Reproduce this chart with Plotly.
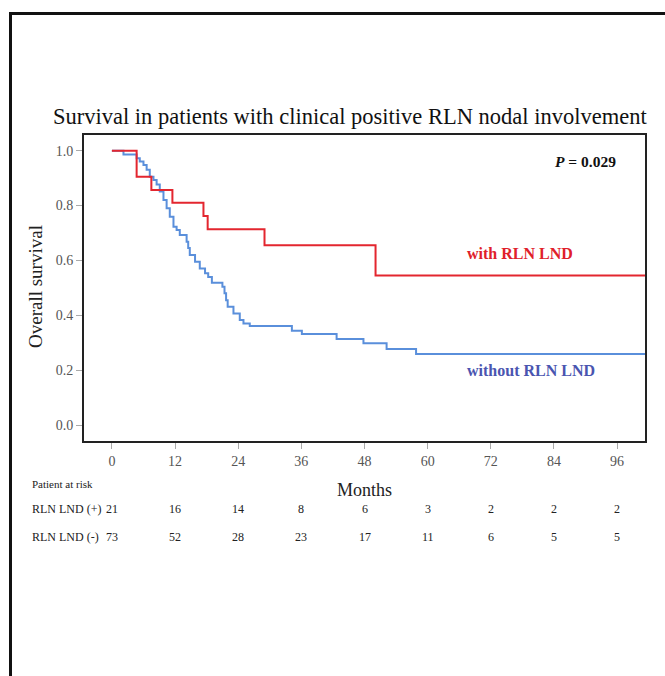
import plotly.graph_objects as go

# ---- data ----
red_t = [0, 4.7, 7.5, 11.5, 17.4, 18.2, 29.0, 50.1, 101.3]
red_s = [1.0, 0.905, 0.857, 0.810, 0.762, 0.714, 0.655, 0.545, 0.545]

blue_t = [0, 2.2, 4.7, 5.3, 6.0, 6.6, 7.2, 7.9, 8.5, 9.1, 9.8, 10.4, 11.0, 11.7,
          12.3, 12.9, 14.2, 14.5, 14.8, 15.8, 16.7, 17.7, 18.3, 19.0, 21.0, 21.4,
          21.7, 22.0, 23.1, 24.3, 25.0, 26.2, 34.2, 36.1, 42.7, 47.8, 52.2, 57.8, 101.3]
blue_s = [1.0, 0.986, 0.972, 0.960, 0.948, 0.930, 0.905, 0.893, 0.877, 0.851, 0.820,
          0.790, 0.759, 0.723, 0.711, 0.693, 0.668, 0.645, 0.620, 0.595, 0.571, 0.553,
          0.540, 0.519, 0.504, 0.480, 0.455, 0.431, 0.407, 0.383, 0.370, 0.361, 0.344,
          0.332, 0.314, 0.298, 0.277, 0.259, 0.259]

risk_times = [0, 12, 24, 36, 48, 60, 72, 84, 96]
risk_plus = [21, 16, 14, 8, 6, 3, 2, 2, 2]
risk_minus = [73, 52, 28, 23, 17, 11, 6, 5, 5]

x_ticks = [0, 12, 24, 36, 48, 60, 72, 84, 96]
y_ticks = [0.0, 0.2, 0.4, 0.6, 0.8, 1.0]

title = "Survival in patients with clinical positive RLN nodal involvement"

# ---- layout helpers (pixel -> paper) ----
W, H = 665, 676
L, R, T, B = 84, 20, 135, 235
PW, PH = W - L - R, H - T - B
def px(x):
    return (x - L) / PW
def py(y):
    return (H - B - y) / PH

SERIF = "Liberation Serif"
RED_LINE = "#e3262f"
BLUE_LINE = "#5a8fdb"

fig = go.Figure()
fig.add_trace(go.Scatter(x=blue_t, y=blue_s, mode="lines", line_shape="hv",
                         line=dict(color=BLUE_LINE, width=2), showlegend=False))
fig.add_trace(go.Scatter(x=red_t, y=red_s, mode="lines", line_shape="hv",
                         line=dict(color=RED_LINE, width=2), showlegend=False))

ann = []
ann.append(dict(text=title, x=px(350), y=py(116), xref="paper", yref="paper",
                showarrow=False, xanchor="center", yanchor="middle",
                font=dict(family=SERIF, size=22.5, color="#111")))
ann.append(dict(text="Overall survival", x=px(35), y=py(287), xref="paper", yref="paper",
                showarrow=False, textangle=-90, xanchor="center", yanchor="middle",
                font=dict(family=SERIF, size=19, color="#222")))
ann.append(dict(text="Months", x=px(364), y=py(490), xref="paper", yref="paper",
                showarrow=False, xanchor="center", yanchor="middle",
                font=dict(family=SERIF, size=18, color="#222")))
ann.append(dict(text="<b><i>P</i> = 0.029</b>", x=px(618), y=py(161), xref="paper", yref="paper",
                showarrow=False, xanchor="right", yanchor="middle",
                font=dict(family=SERIF, size=15.5, color="#111")))
ann.append(dict(text="<b>with RLN LND</b>", x=px(465), y=py(253), xref="paper", yref="paper",
                showarrow=False, xanchor="left", yanchor="middle",
                font=dict(family=SERIF, size=16, color="#e0202a")))
ann.append(dict(text="<b>without RLN LND</b>", x=px(465), y=py(370), xref="paper", yref="paper",
                showarrow=False, xanchor="left", yanchor="middle",
                font=dict(family=SERIF, size=16, color="#4a55b0")))
ann.append(dict(text="Patient at risk", x=px(30), y=py(484), xref="paper", yref="paper",
                showarrow=False, xanchor="left", yanchor="middle",
                font=dict(family=SERIF, size=11, color="#222")))
ann.append(dict(text="RLN LND (+)", x=px(30), y=py(509), xref="paper", yref="paper",
                showarrow=False, xanchor="left", yanchor="middle",
                font=dict(family=SERIF, size=12, color="#222")))
ann.append(dict(text="RLN LND (-)", x=px(30), y=py(537), xref="paper", yref="paper",
                showarrow=False, xanchor="left", yanchor="middle",
                font=dict(family=SERIF, size=12, color="#222")))
for t, a, b in zip(risk_times, risk_plus, risk_minus):
    ann.append(dict(text=str(a), x=t, y=py(509), xref="x", yref="paper",
                    showarrow=False, xanchor="center", yanchor="middle",
                    font=dict(family=SERIF, size=12, color="#222")))
    ann.append(dict(text=str(b), x=t, y=py(537), xref="x", yref="paper",
                    showarrow=False, xanchor="center", yanchor="middle",
                    font=dict(family=SERIF, size=12, color="#222")))

shapes = [
    dict(type="line", xref="paper", yref="paper", x0=px(10.5), x1=px(10.5),
         y0=py(690), y1=py(12), line=dict(color="#111", width=3)),
    dict(type="line", xref="paper", yref="paper", x0=px(9), x1=px(680),
         y0=py(13.5), y1=py(13.5), line=dict(color="#111", width=3)),
]

fig.update_layout(
    width=W, height=H, autosize=False,
    margin=dict(l=L, r=R, t=T, b=B),
    paper_bgcolor="white", plot_bgcolor="white",
    annotations=ann, shapes=shapes,
    xaxis=dict(range=[-5.3, 101.3], tickvals=x_ticks, ticks="outside", ticklen=6,
               tickcolor="#aaa", showgrid=False, zeroline=False,
               showline=True, mirror=True, linecolor="#222", linewidth=2,
               tickfont=dict(family=SERIF, size=14, color="#555")),
    yaxis=dict(range=[-0.058, 1.057], tickvals=y_ticks, tickformat=".1f",
               ticks="outside", ticklen=6, tickcolor="#aaa", showgrid=False,
               zeroline=False, showline=True, mirror=True, linecolor="#222",
               linewidth=2, tickfont=dict(family=SERIF, size=14, color="#555")),
)

fig.write_html("out.html", config={"displayModeBar": False},
               post_script="document.body.style.margin='0';document.body.style.padding='0';document.body.style.overflow='hidden';")
